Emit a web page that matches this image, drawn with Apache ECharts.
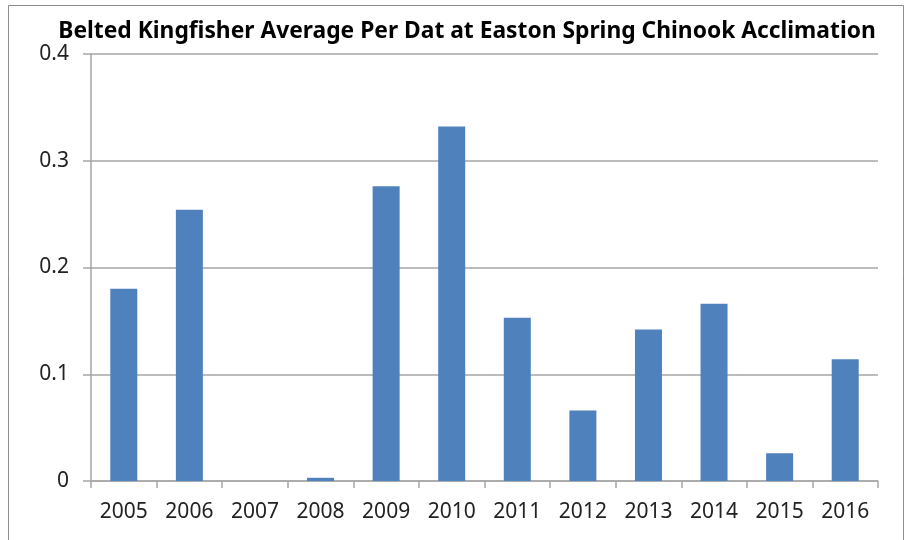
<!DOCTYPE html>
<html>
<head>
<meta charset="utf-8">
<script src="https://cdn.jsdelivr.net/npm/echarts@6/dist/echarts.min.js"></script>
<style>
  html, body { margin: 0; padding: 0; background: #fff; }
  #chart { width: 906px; height: 540px; }
</style>
</head>
<body>
<div id="chart"></div>
<script>
// values
var years = ["2005", "2006", "2007", "2008", "2009", "2010", "2011", "2012", "2013", "2014", "2015", "2016"];
var avgPerDay = [0.180, 0.254, 0, 0.003, 0.276, 0.332, 0.153, 0.066, 0.142, 0.166, 0.026, 0.114];
var yTicks = [0, 0.1, 0.2, 0.3, 0.4];

var chart = echarts.init(document.getElementById("chart"));

chart.setOption({
    animation: false,
    backgroundColor: "#fff",
    title: {
        text: "Belted Kingfisher Average Per Dat at Easton Spring Chinook Acclimation",
        left: 462,
        top: 15,
        textAlign: "center",
        textStyle: {
            fontFamily: "Noto Sans",
            fontWeight: "bold",
            fontSize: 22.8,
            color: "#000"
        }
    },
    graphic: [{
        type: "rect",
        shape: { x: 8.5, y: 5.5, width: 895, height: 560 },
        style: { fill: "none", stroke: "#8c8c8c", lineWidth: 1 },
        silent: true
    }],
    grid: {
        left: 91,
        right: 28,
        top: 54,
        bottom: 59
    },
    xAxis: {
        type: "category",
        data: years,
        axisLine: { lineStyle: { color: "#a6a6a6", width: 1.5 } },
        axisTick: { show: true, length: 7, alignWithLabel: false, lineStyle: { color: "#a6a6a6", width: 1.5 } },
        axisLabel: {
            margin: 21,
            fontFamily: "Noto Sans",
            fontSize: 21,
            color: "#222"
        }
    },
    yAxis: {
        type: "value",
        min: yTicks[0],
        max: yTicks[yTicks.length - 1],
        interval: 0.1,
        axisLine: { show: true, lineStyle: { color: "#a6a6a6", width: 1.5 } },
        axisTick: { show: true, length: 8, lineStyle: { color: "#a6a6a6", width: 1.5 } },
        splitLine: { lineStyle: { color: "#a6a6a6", width: 1.5 } },
        axisLabel: {
            margin: 22,
            fontFamily: "Noto Sans",
            fontSize: 21,
            color: "#222",
            formatter: function (v) { return String(Math.round(v * 10) / 10); }
        }
    },
    series: [{
        type: "bar",
        data: avgPerDay,
        barWidth: 27,
        itemStyle: { color: "#4f81bd" }
    }]
});
</script>
</body>
</html>
